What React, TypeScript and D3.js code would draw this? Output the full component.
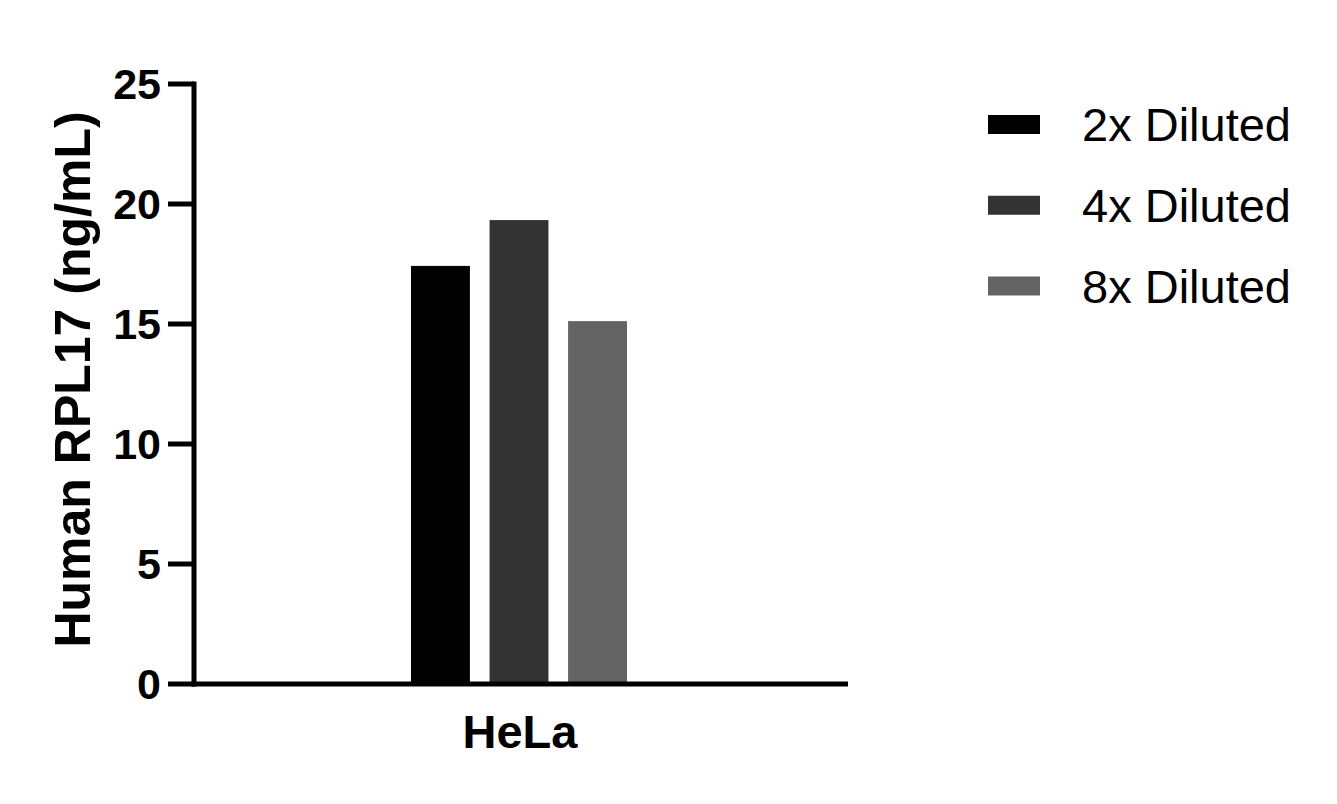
import React from 'react'
import * as d3 from 'd3'

// chart values
const categories = ['HeLa']
const seriesNames = ['2x Diluted', '4x Diluted', '8x Diluted']
const seriesValues = [17.42, 19.33, 15.12]
const seriesColors = ['#000000', '#333333', '#636363']
const yTicks = [0, 5, 10, 15, 20, 25]

const W = 1337
const H = 804
const FONT = '"Liberation Sans", Arial, Helvetica, sans-serif'

const App: React.FC = () => {
    const axisLeft = 194
    const axisRight = 848
    const y = d3.scaleLinear().domain([0, 25]).range([684, 84])

    // outer band for the single category
    const x0 = d3.scaleBand().domain(categories).range([axisLeft, axisRight])
    const groupCenter = (x0(categories[0]) ?? 0) + x0.bandwidth() / 2 - 2
    const groupHalf = 108
    const x1 = d3
        .scaleBand()
        .domain(seriesNames)
        .range([groupCenter - groupHalf, groupCenter + groupHalf])
        .paddingInner(0.25)

    const legendY = d3.scalePoint().domain(seriesNames).range([124.5, 286])

    return (
        <svg
            width={W}
            height={H}
            style={{ position: 'absolute', left: 0, top: 0, background: '#fff' }}
            fontFamily={FONT}
        >
            <rect width={W} height={H} fill="#fff" />

            {/* bars */}
            {seriesNames.map((s, i) => (
                <rect
                    key={s}
                    x={x1(s)}
                    y={y(seriesValues[i])}
                    width={x1.bandwidth()}
                    height={y(0) - y(seriesValues[i])}
                    fill={seriesColors[i]}
                />
            ))}

            {/* y axis */}
            <line x1={axisLeft} x2={axisLeft} y1={y(25) - 2.5} y2={y(0) + 2.5} stroke="#000" strokeWidth={5} />
            {yTicks.map((t) => (
                <g key={t}>
                    <line x1={168} x2={axisLeft} y1={y(t)} y2={y(t)} stroke="#000" strokeWidth={5} />
                    <text
                        x={161}
                        y={y(t)}
                        dy="0.36em"
                        textAnchor="end"
                        fontSize={43}
                        fontWeight="bold"
                        fill="#000"
                    >
                        {t}
                    </text>
                </g>
            ))}

            {/* x axis */}
            <line x1={axisLeft - 2.5} x2={axisRight} y1={y(0)} y2={y(0)} stroke="#000" strokeWidth={5} />
            {categories.map((c) => (
                <text
                    key={c}
                    x={(x0(c) ?? 0) + x0.bandwidth() / 2 - 1}
                    y={748}
                    textAnchor="middle"
                    fontSize={47}
                    fontWeight="bold"
                    fill="#000"
                >
                    {c}
                </text>
            ))}

            {/* y axis title */}
            <text
                transform={`translate(90, 379.5) rotate(-90)`}
                textAnchor="middle"
                fontSize={50}
                fontWeight="bold"
                fill="#000"
            >
                Human RPL17 (ng/mL)
            </text>

            {/* legend */}
            {seriesNames.map((s, i) => (
                <g key={s} transform={`translate(0, ${legendY(s)})`}>
                    <rect x={988} y={-9.5} width={52} height={19} fill={seriesColors[i]} />
                    <text x={1082} y={0} dy="0.36em" fontSize={47} fill="#000">
                        {s}
                    </text>
                </g>
            ))}
        </svg>
    )
}

export default App
